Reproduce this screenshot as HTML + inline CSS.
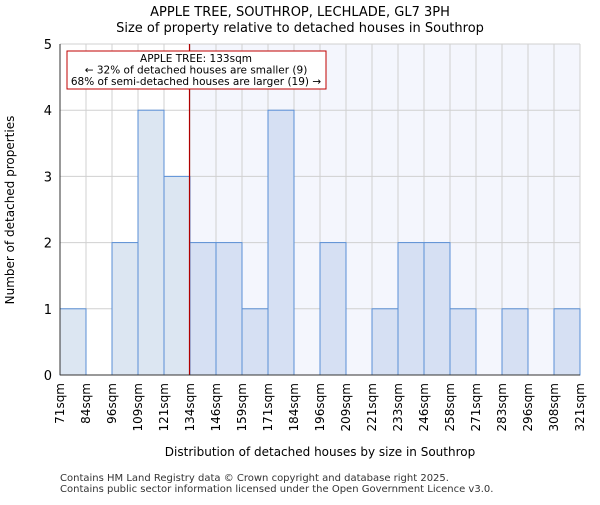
<!DOCTYPE html>
<html><head><meta charset="utf-8"><style>
body{margin:0;background:#fff}
svg{font-family:"DejaVu Sans","Liberation Sans",sans-serif}
</style></head><body>
<svg id="chart" width="600" height="500">
<text x="300" y="16" text-anchor="middle" font-size="13">APPLE TREE, SOUTHROP, LECHLADE, GL7 3PH</text>
<text x="300" y="32" text-anchor="middle" font-size="13">Size of property relative to detached houses in Southrop</text>
<rect x="189.5" y="44" width="390.5" height="331" fill="#f4f6fd"/>
<g id="grid"></g>
<g id="bars"></g>
<line x1="189.5" y1="44" x2="189.5" y2="375" stroke="#b00000" stroke-width="1.2"/>
<line x1="60" y1="44" x2="60" y2="375" stroke="#333"/>
<line x1="60" y1="375" x2="580" y2="375" stroke="#333"/>
<g id="ticks"></g>
<rect x="67" y="51" width="259" height="38" fill="#fff" stroke="#c00000"/>
<text x="196" y="62" text-anchor="middle" font-size="10.5">APPLE TREE: 133sqm</text>
<text x="196" y="73.5" text-anchor="middle" font-size="10.5">← 32% of detached houses are smaller (9)</text>
<text x="196" y="85" text-anchor="middle" font-size="10.5">68% of semi-detached houses are larger (19) →</text>
<text x="14" y="210" text-anchor="middle" font-size="12" transform="rotate(-90 14 210)">Number of detached properties</text>
<text x="320" y="456" text-anchor="middle" font-size="12">Distribution of detached houses by size in Southrop</text>
<text x="60" y="481" font-size="10" fill="#333">Contains HM Land Registry data © Crown copyright and database right 2025.</text>
<text x="60" y="492" font-size="10" fill="#333">Contains public sector information licensed under the Open Government Licence v3.0.</text>
</svg>
<script>
const tickLabels=["71sqm","84sqm","96sqm","109sqm","121sqm","134sqm","146sqm","159sqm","171sqm","184sqm","196sqm","209sqm","221sqm","233sqm","246sqm","258sqm","271sqm","283sqm","296sqm","308sqm","321sqm"];
const counts=[1,0,2,4,3,2,2,1,4,0,2,0,1,2,2,1,0,1,0,1];
const yTicks=[0,1,2,3,4,5];
const markerBin=4.95;
const NS="http://www.w3.org/2000/svg";
const x0=60,x1=580,y0=375,y1=44,yMax=5;
const bw=(x1-x0)/counts.length;
const xs=i=>x0+i*bw;
const ys=v=>y0-(y0-y1)*v/yMax;
const markerX=xs(markerBin);
function mk(t,a,p){const e=document.createElementNS(NS,t);for(const k in a)e.setAttribute(k,a[k]);p.appendChild(e);return e;}
const grid=document.getElementById('grid'),bars=document.getElementById('bars'),ticks=document.getElementById('ticks');
yTicks.forEach(v=>{
 const l=mk('line',{x1:x0,x2:x1,y1:ys(v),y2:ys(v),stroke:'#d0d0d0'},grid);
 
 
 const t=mk('text',{x:x0-8,y:ys(v)+5,'text-anchor':'end','font-size':'13'},ticks);
 t.textContent=v;
 
 
});
tickLabels.forEach((s,i)=>{
 const x=xs(i);
 const l=mk('line',{x1:x,x2:x,y1:y1,y2:y0,stroke:'#d0d0d0'},grid);
 
 
 const t=mk('text',{x:x+4,y:y0+8,'text-anchor':'end','font-size':'12',transform:`rotate(-90 ${x+4} ${y0+8})`},ticks);
 t.textContent=s;
 
 
});
counts.forEach((c,i)=>{
 if(!c)return;
 const r=mk('rect',{x:xs(i),y:ys(c),width:bw,height:y0-ys(c),fill:xs(i)>=markerX-1?'#d6e0f3':'#dce6f2',stroke:'#5a8fd6','stroke-width':1},bars);
 
 
});
</script>
</body></html>
